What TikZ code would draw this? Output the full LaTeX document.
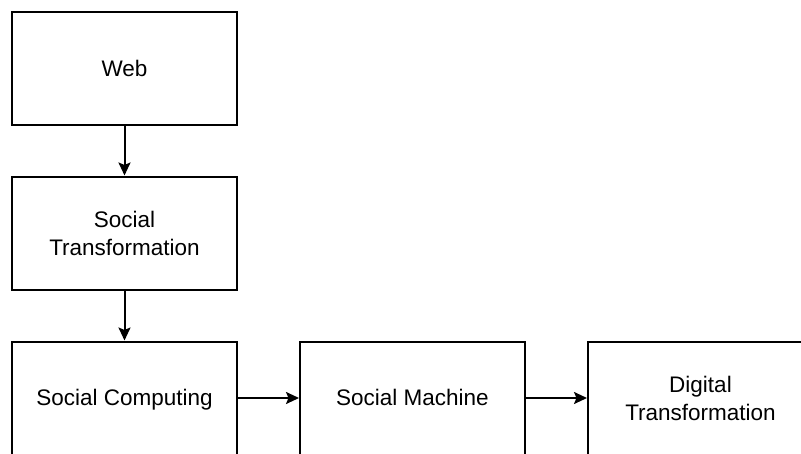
\documentclass[tikz,border=0pt]{standalone}
\usepackage{fontspec}
\setmainfont{Liberation Sans}
\usetikzlibrary{arrows.meta}
\newcommand{\oneline}[1]{\raisebox{-3.5pt}[14pt][6pt]{#1}}
\begin{document}
\begin{tikzpicture}[x=1pt,y=-1pt,
  box/.style={draw=black,line width=2pt,minimum width=225pt,minimum height=113pt,
    align=center,inner sep=0pt,font=\fontsize{22.5}{28}\selectfont},
  conn/.style={line width=2pt,-{Stealth[length=13pt,width=12pt,inset=2.5pt]}}]
\useasboundingbox[fill=white] (0,0) rectangle (801,453);
\begin{scope}
\clip (0,0) rectangle (801,453);
\node[box] (web) at (124.5,68.5) {\oneline{Web}};
\node[box] (st) at (124.5,233) {Social\\Transformation};
\node[box] (sc) at (124.5,398) {\oneline{Social Computing}};
\node[box] (sm) at (412.5,398) {\oneline{Social Machine}};
\node[box] (dt) at (700.5,398) {Digital\\Transformation};
\draw[conn] (web) -- (st);
\draw[conn] (st) -- (sc);
\draw[conn] (sc) -- (sm);
\draw[conn] (sm) -- (dt);
\end{scope}
\end{tikzpicture}
\end{document}
